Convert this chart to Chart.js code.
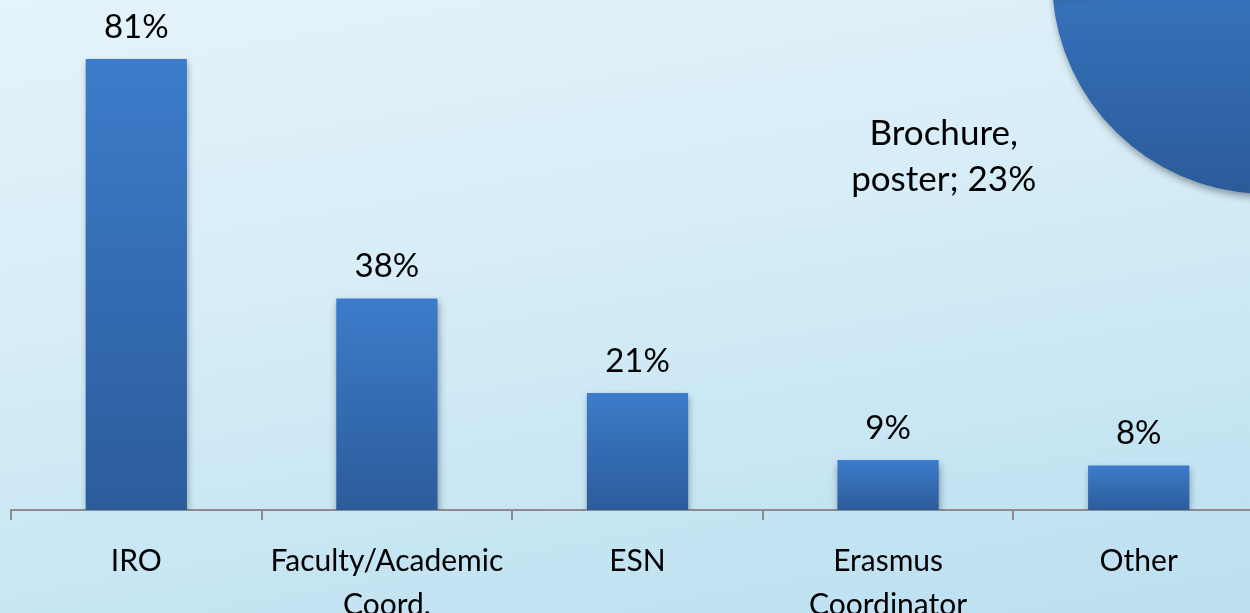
<!DOCTYPE html>
<html>
<head>
<meta charset="utf-8">
<script src="https://cdn.jsdelivr.net/npm/chart.js@4"></script>
<style>
  html, body {
    margin: 0;
    width: 1250px;
    height: 613px;
    overflow: hidden;
  }
  body {
    position: relative;
    background: linear-gradient(170deg, #e5f3fa 0%, #d7edf7 40%, #c6e5f3 75%, #bcdff0 100%);
    font-family: Lato, "Open Sans", sans-serif;
  }
  #barBox {
    position: absolute;
    left: 0;
    top: 0;
    width: 1264px;
    height: 613px;
  }
  #pieBox {
    position: absolute;
    left: 852px;
    top: -236px;
    width: 630px;
    height: 490px;
  }
</style>
</head>
<body>
<div id="barBox"><canvas id="barChart"></canvas></div>
<div id="pieBox"><canvas id="pieChart"></canvas></div>
<script>
const categories = [["IRO"], ["Faculty/Academic", "Coord."], ["ESN"], ["Erasmus", "Coordinator"], ["Other"]];
const shares = [81, 38, 21, 9, 8];

const pieLabels = ["Brochure, poster", "Rest"];
const pieShares = [23, 77];

const fontFamily = "Lato, 'Open Sans', sans-serif";

// soft drop shadow under the marks, like the office chart
const shadowPlugin = {
  id: "shadow",
  beforeDatasetsDraw(chart) {
    const ctx = chart.ctx;
    ctx.save();
    ctx.shadowColor = "rgba(40, 50, 60, 0.45)";
    ctx.shadowBlur = 7;
    ctx.shadowOffsetX = 1;
    ctx.shadowOffsetY = 4;
  },
  afterDatasetsDraw(chart) {
    chart.ctx.restore();
  }
};

const valueLabels = {
  id: "valueLabels",
  afterDraw(chart) {
    const ctx = chart.ctx;
    const meta = chart.getDatasetMeta(0);
    ctx.save();
    ctx.fillStyle = "#000";
    ctx.font = "33px " + fontFamily;
    ctx.textAlign = "center";
    ctx.textBaseline = "alphabetic";
    meta.data.forEach((bar, i) => {
      ctx.fillText(shares[i] + "%", bar.x, bar.y - 21);
    });
    ctx.restore();
  }
};

function barGradient(context) {
  const chart = context.chart;
  const yScale = chart.scales.y;
  if (!yScale || !context.parsed) return "#3a78c6";
  const top = yScale.getPixelForValue(context.parsed.y);
  const bottom = yScale.getPixelForValue(0);
  if (!isFinite(top) || !isFinite(bottom) || top === bottom) return "#3a78c6";
  const g = chart.ctx.createLinearGradient(0, top, 0, bottom);
  g.addColorStop(0, "#3c7ccb");
  g.addColorStop(1, "#2c5c9a");
  return g;
}

new Chart(document.getElementById("barChart"), {
  type: "bar",
  data: {
    labels: categories,
    datasets: [{
      data: shares,
      backgroundColor: barGradient,
      borderWidth: 0,
      categoryPercentage: 1,
      barPercentage: 0.404
    }]
  },
  options: {
    responsive: true,
    maintainAspectRatio: false,
    animation: false,
    layout: { padding: { left: 11, right: 0, top: 0, bottom: 0 } },
    plugins: {
      legend: { display: false },
      tooltip: { enabled: false }
    },
    scales: {
      y: {
        display: false,
        min: 0,
        max: 91.6
      },
      x: {
        afterFit(scale) { scale.height = 103; },
        grid: {
          offset: true,
          drawOnChartArea: false,
          drawTicks: true,
          tickLength: 10,
          color: "#8c8c8c",
          lineWidth: 2
        },
        border: { display: true, color: "#8c8c8c", width: 2 },
        ticks: {
          color: "#000",
          font: { family: fontFamily, size: 30, lineHeight: 1.45 },
          padding: 20,
          maxRotation: 0,
          autoSkip: false
        }
      }
    }
  },
  plugins: [shadowPlugin, valueLabels]
});

function pieGradient(context) {
  const chart = context.chart;
  const area = chart.chartArea;
  if (!area || !isFinite(area.top) || area.bottom <= area.top) return "#3a78c6";
  const cy = (area.top + area.bottom) / 2;
  const r = (area.bottom - area.top) / 2;
  const g = chart.ctx.createLinearGradient(0, cy - 0.2 * r, 0, cy + r);
  g.addColorStop(0, "#3a78c5");
  g.addColorStop(1, "#2b5b99");
  return g;
}

const pieLabel = {
  id: "pieLabel",
  afterDraw(chart) {
    const arc = chart.getDatasetMeta(0).data[0];
    const ang = arc.startAngle + 0.7 * (arc.endAngle - arc.startAngle);
    const x = arc.x + Math.cos(ang) * arc.outerRadius * 1.72;
    const y = arc.y + Math.sin(ang) * arc.outerRadius * 1.72;
    const ctx = chart.ctx;
    ctx.save();
    ctx.fillStyle = "#000";
    ctx.font = "35px " + fontFamily;
    ctx.textAlign = "center";
    ctx.textBaseline = "alphabetic";
    ctx.fillText("Brochure,", x, y - 14);
    ctx.fillText("poster; " + pieShares[0] + "%", x, y + 32);
    ctx.restore();
  }
};

new Chart(document.getElementById("pieChart"), {
  type: "pie",
  data: {
    labels: pieLabels,
    datasets: [{
      data: pieShares,
      backgroundColor: pieGradient,
      borderWidth: 0,
      hoverOffset: 0
    }]
  },
  options: {
    responsive: true,
    maintainAspectRatio: false,
    animation: false,
    rotation: 183,
    layout: { padding: { left: 200, right: 0, top: 0, bottom: 60 } },
    plugins: {
      legend: { display: false },
      tooltip: { enabled: false }
    }
  },
  plugins: [shadowPlugin, pieLabel]
});
</script>
</body>
</html>
